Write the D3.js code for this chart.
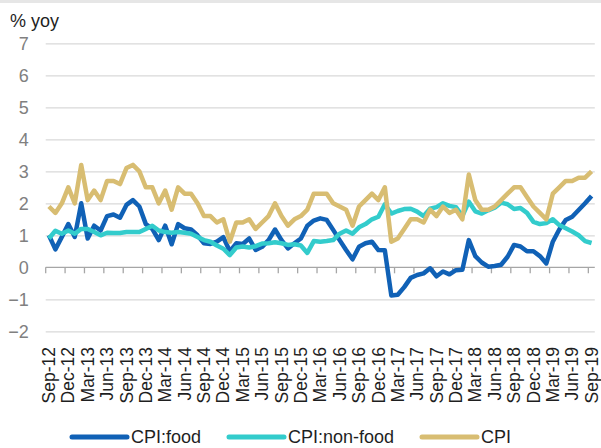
<!DOCTYPE html>
<html>
<head>
<meta charset="utf-8">
<script src="https://cdn.jsdelivr.net/npm/d3@7"></script>
<style>
  body { margin: 0; background: #fff; }
  svg { display: block; font-family: "Liberation Sans", Arial, sans-serif; }
</style>
</head>
<body>
<svg width="601" height="448"></svg>
<script>

// months Sep-12 .. Sep-19
var months = [];
var monNames = ["Jan","Feb","Mar","Apr","May","Jun","Jul","Aug","Sep","Oct","Nov","Dec"];
for (var yr = 12; yr <= 19; yr++) {
  for (var m = 0; m < 12; m++) {
    if (yr == 12 && m < 8) continue;
    if (yr == 19 && m > 8) continue;
    months.push(monNames[m] + "-" + yr);
  }
}

var cpiFood = [
  1.0, 0.56, 0.95, 1.35,
  0.95, 2.0, 0.9, 1.3, 1.15, 1.6, 1.65, 1.55, 1.95, 2.1, 1.9, 1.35,
  1.2, 0.85, 1.3, 0.72, 1.35, 1.22, 1.18, 1.0, 0.75, 0.73, 0.8, 0.94,
  0.5, 0.75, 0.73, 0.9, 0.54, 0.64, 0.85, 1.18, 0.85, 0.59, 0.75, 0.9,
  1.3, 1.46, 1.53, 1.48, 1.17, 0.85, 0.54, 0.25, 0.64, 0.75, 0.8, 0.54,
  0.53, -0.88, -0.86, -0.62, -0.33, -0.24, -0.19, -0.03, -0.28, -0.13, -0.22, -0.09,
  -0.08, 0.85, 0.35, 0.15, 0.02, 0.04, 0.08, 0.33, 0.7, 0.65, 0.5, 0.5,
  0.35, 0.12, 0.8, 1.18, 1.48, 1.58, 1.79, 2.0, 2.23
];

var cpiNonFood = [
  0.9, 1.14, 1.05, 1.15,
  1.05, 1.2, 1.2, 1.1, 1.0, 1.08, 1.07, 1.07, 1.1, 1.1, 1.1, 1.2,
  1.3, 1.15, 1.1, 1.08, 1.1, 1.08, 1.05, 0.95, 0.85, 0.8, 0.68, 0.58,
  0.38, 0.62, 0.65, 0.62, 0.66, 0.74, 0.75, 0.78, 0.75, 0.7, 0.72, 0.68,
  0.45, 0.82, 0.8, 0.82, 0.85, 1.05, 1.15, 1.05, 1.25, 1.35, 1.5, 1.58,
  1.97, 1.68, 1.76, 1.82, 1.83, 1.74, 1.6, 1.83, 1.88, 2.0, 1.92, 1.88,
  1.6, 2.05, 1.75, 1.68, 1.78, 1.86, 2.02, 1.97, 1.82, 1.85, 1.7, 1.42,
  1.35, 1.38, 1.5, 1.32, 1.22, 1.12, 1.0, 0.82, 0.76
];

var cpi = [
  1.9, 1.7, 2.0, 2.5,
  2.0, 3.2, 2.1, 2.4, 2.1, 2.7, 2.7, 2.6, 3.1, 3.2, 3.0, 2.5,
  2.5, 2.0, 2.4, 1.8, 2.5, 2.3, 2.3, 2.0, 1.6, 1.6, 1.4, 1.5,
  0.8, 1.4, 1.4, 1.5, 1.2, 1.4, 1.6, 2.0, 1.6, 1.3, 1.5, 1.6,
  1.8, 2.3, 2.3, 2.3, 2.0, 1.9, 1.8, 1.3, 1.9, 2.1, 2.3, 2.1,
  2.5, 0.8, 0.9, 1.2, 1.5, 1.5, 1.4, 1.8, 1.6, 1.9, 1.7, 1.8,
  1.5, 2.9, 2.1, 1.8, 1.8, 1.9, 2.1, 2.3, 2.5, 2.5, 2.2, 1.9,
  1.7, 1.5, 2.3, 2.5, 2.7, 2.7, 2.8, 2.8, 3.0
];

var yTicks = [-2, -1, 0, 1, 2, 3, 4, 5, 6, 7];

var series = [
  { name: "CPI:food", values: cpiFood, color: "#1061B6" },
  { name: "CPI:non-food", values: cpiNonFood, color: "#33CCCC" },
  { name: "CPI", values: cpi, color: "#D8BD72" }
];

var svg = d3.select("svg");

var plotL = 45.7, plotR = 594.8, plotT = 43.3, plotB = 331.3;

var x = d3.scaleBand().domain(months).range([plotL, plotR]).padding(0);
var y = d3.scaleLinear().domain([-2, 7]).range([plotB, plotT]);
var bw = x.bandwidth();

svg.append("rect").attr("x", 0).attr("y", 0).attr("width", 601).attr("height", 3).attr("fill", "#e6e6e6");

// gridlines + y labels
var yAxis = svg.append("g")
  .attr("transform", "translate(" + plotL + ",0)")
  .call(d3.axisLeft(y).tickValues(yTicks).tickSize(-(plotR - plotL)).tickPadding(17));
yAxis.select(".domain").remove();
yAxis.selectAll(".tick line")
  .attr("stroke", function(d) { return d === 0 ? "none" : "#d9d9d9"; })
  .attr("stroke-width", 1.3);
yAxis.selectAll(".tick text")
  .attr("fill", "#808080")
  .style("font-size", "18px")
  .style("font-family", "'Liberation Sans', Arial, sans-serif");

// zero axis with ticks
var xAxis = svg.append("g");
xAxis.append("line")
  .attr("x1", plotL).attr("x2", plotR)
  .attr("y1", y(0)).attr("y2", y(0))
  .attr("stroke", "#a6a6a6").attr("stroke-width", 1.3);

var labelled = months.filter(function(d, i) { return i % 3 == 0; });

xAxis.selectAll(".tk")
  .data(labelled)
  .enter().append("line")
    .attr("x1", function(d) { return x(d); })
    .attr("x2", function(d) { return x(d); })
    .attr("y1", y(0))
    .attr("y2", y(0) + 6)
    .attr("stroke", "#a6a6a6").attr("stroke-width", 1.3);

svg.append("g").selectAll("text")
  .data(labelled)
  .enter().append("text")
    .attr("transform", function(d) {
      return "translate(" + (x(d) + bw / 2) + ",347) rotate(-90)";
    })
    .attr("text-anchor", "end")
    .attr("dy", "0.35em")
    .attr("fill", "#1f1f1f")
    .style("font-size", "17.5px")
    .text(function(d) { return d; });

// lines
var line = d3.line()
  .x(function(d, i) { return x(months[i]) + bw / 2; })
  .y(function(d) { return y(d); });

svg.append("g").selectAll("path")
  .data(series)
  .enter().append("path")
    .attr("d", function(d) { return line(d.values); })
    .attr("fill", "none")
    .attr("stroke", function(d) { return d.color; })
    .attr("stroke-width", 4.5)
    .attr("stroke-linejoin", "round");

// title
svg.append("text")
  .attr("x", 10).attr("y", 27)
  .attr("fill", "#1f1f1f")
  .style("font-size", "18px")
  .text("% yoy");

// legend
var legendX = [72, 229, 422];
var lg = svg.append("g").selectAll("g")
  .data(series)
  .enter().append("g")
    .attr("transform", function(d, i) { return "translate(" + legendX[i] + ",437)"; });

lg.append("line")
  .attr("x1", 0).attr("x2", 55)
  .attr("y1", 0).attr("y2", 0)
  .attr("stroke", function(d) { return d.color; })
  .attr("stroke-width", 5)
  .attr("stroke-linecap", "round");

lg.append("text")
  .attr("x", 59)
  .attr("dy", "0.35em")
  .attr("fill", "#1f1f1f")
  .style("font-size", "18px")
  .text(function(d) { return d.name; });

</script>
</body>
</html>
